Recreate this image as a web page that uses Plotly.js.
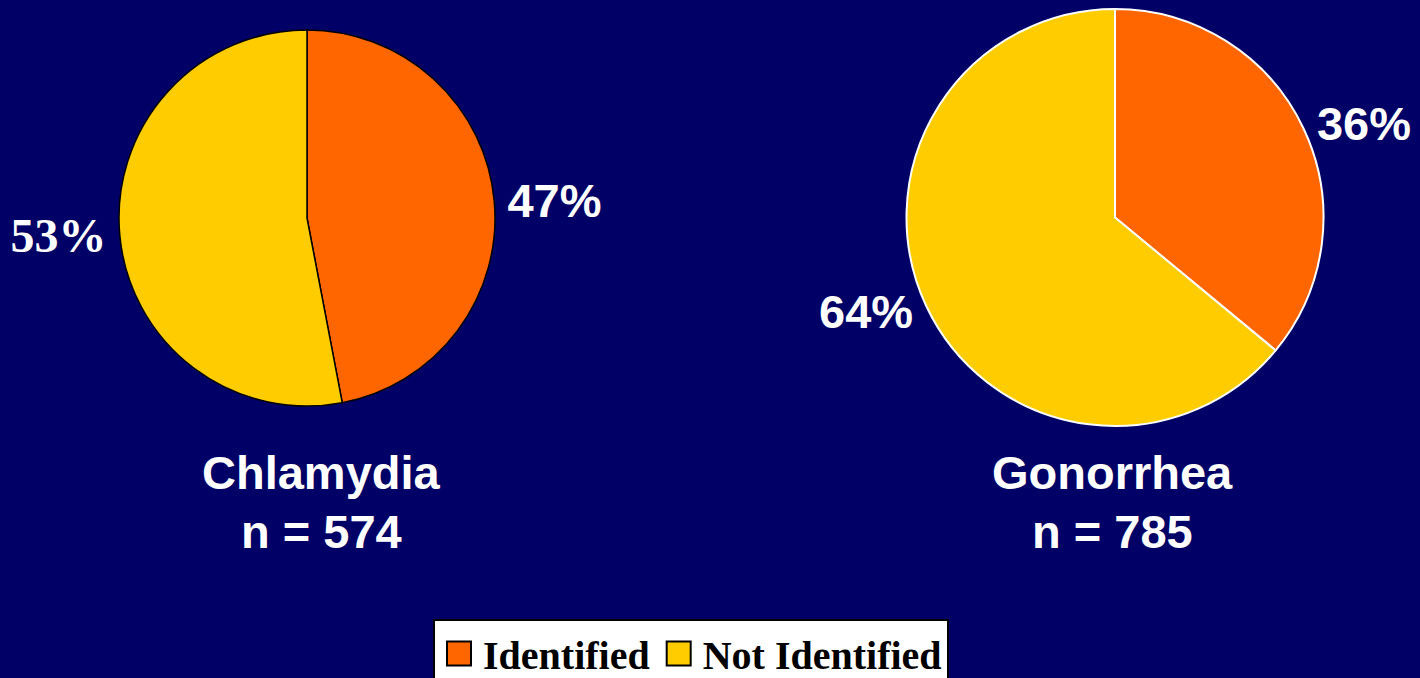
<!DOCTYPE html>
<html>
<head>
<meta charset="utf-8">
<script src="https://cdn.plot.ly/plotly-3.0.1.min.js"></script>
<style>
html,body{margin:0;padding:0;background:#000066;}
#chart{width:1420px;height:678px;}
</style>
</head>
<body>
<div id="chart"></div>
<script>
const categories = ["Identified", "Not Identified"];
const chlamydiaValues = [47, 53];
const gonorrheaValues = [36, 64];
const diseaseNames = ["Chlamydia", "Gonorrhea"];
const sampleSizes = [574, 785];
const sliceColors = ["#FF6600", "#FFCC00"];

const bg = "#000066";
const sans = "Liberation Sans";
const serif = "Liberation Serif";

const traces = [
  {
    type: "pie",
    labels: categories,
    values: chlamydiaValues,
    sort: false,
    direction: "clockwise",
    rotation: 0,
    domain: {x: [119/1420, 495/1420], y: [1 - 406/678, 1 - 30/678]},
    marker: {colors: sliceColors, line: {color: "#000000", width: 1.5}},
    textinfo: "percent",
    texttemplate: "%{percent:.0%}",
    textposition: "outside",
    textfont: {family: [sans, serif], size: [47, 48], color: ["#FFFFFF", "#FFFFFF"], weight: ["bold", "bold"]},
    outsidetextfont: {family: [sans, serif], size: [47, 48], color: ["#FFFFFF", "#FFFFFF"], weight: ["bold", "bold"]},
    hoverinfo: "label+percent",
    showlegend: true
  },
  {
    type: "pie",
    labels: categories,
    values: gonorrheaValues,
    sort: false,
    direction: "clockwise",
    rotation: 0,
    domain: {x: [906/1420, 1324/1420], y: [1 - 426/678, 1 - 9/678]},
    marker: {colors: sliceColors, line: {color: "#FFFFFF", width: 2}},
    textinfo: "percent",
    texttemplate: "%{percent:.0%}",
    textposition: "outside",
    textfont: {family: sans, size: 47, color: "#FFFFFF", weight: "bold"},
    hoverinfo: "label+percent",
    showlegend: false
  }
];

const titleX = [321/1420, 1112/1420];
const titleFont = {family: sans, size: 47, color: "#FFFFFF", weight: "bold"};
const annotations = [];
diseaseNames.forEach((name, i) => {
  annotations.push({
    text: name, x: titleX[i], y: 1 - 472/678,
    xref: "paper", yref: "paper", xanchor: "center", yanchor: "middle",
    showarrow: false, font: titleFont
  });
  annotations.push({
    text: "n = " + sampleSizes[i], x: titleX[i], y: 1 - 531/678,
    xref: "paper", yref: "paper", xanchor: "center", yanchor: "middle",
    showarrow: false, font: titleFont
  });
});

const layout = {
  width: 1420, height: 678,
  paper_bgcolor: bg, plot_bgcolor: bg,
  margin: {l: 0, r: 0, t: 0, b: 0, autoexpand: false},
  showlegend: true,
  legend: {
    orientation: "h",
    x: 691/1420, xanchor: "center",
    y: 1 - 619/678, yanchor: "top",
    bgcolor: "#FFFFFF", bordercolor: "#000000", borderwidth: 2,
    itemwidth: 38,
    font: {family: serif, size: 40, color: "#000000", weight: "bold"}
  },
  annotations: annotations
};

Plotly.newPlot("chart", traces, layout, {displayModeBar: false, staticPlot: true}).then(() => {
  document.querySelectorAll(".legendpie").forEach(p => {
    p.setAttribute("d", "M12,12H-12V-12H12Z");
    p.style.strokeWidth = "2px";
    p.style.stroke = "#000000";
  });
});
</script>
</body>
</html>
